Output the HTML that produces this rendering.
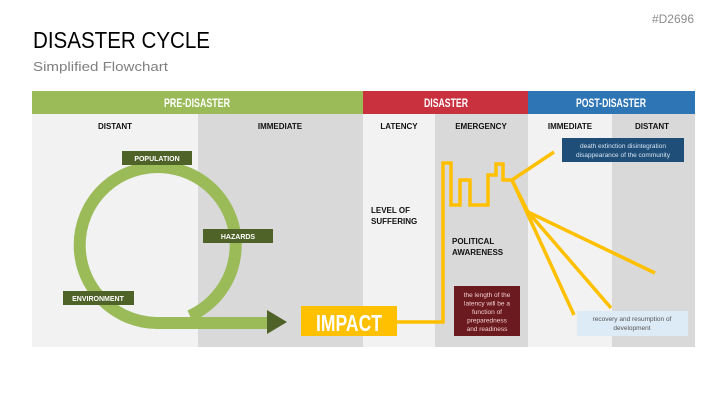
<!DOCTYPE html>
<html><head><meta charset="utf-8"><style>
html,body{margin:0;padding:0;background:#fff;}
svg{display:block;font-family:"Liberation Sans",sans-serif;}
</style></head><body>
<svg width="727" height="409" viewBox="0 0 727 409" xmlns="http://www.w3.org/2000/svg">
<rect width="727" height="409" fill="#fff"/>
<text x="694" y="23" font-size="12" fill="#8c8c8c" text-anchor="end">#D2696</text>
<text x="33" y="48" font-size="23" fill="#000" textLength="177" lengthAdjust="spacingAndGlyphs">DISASTER CYCLE</text>
<text x="33" y="71" font-size="13" fill="#7f7f7f" textLength="135" lengthAdjust="spacingAndGlyphs">Simplified Flowchart</text>
<!-- header bars -->
<rect x="32" y="91" width="331" height="23" fill="#9bbb59"/>
<rect x="363" y="91" width="165" height="23" fill="#c9313f"/>
<rect x="528" y="91" width="167" height="23" fill="#2e75b6"/>
<g fill="#fff" font-size="12" font-weight="bold" text-anchor="middle">
<text x="197" y="107" textLength="66" lengthAdjust="spacingAndGlyphs">PRE-DISASTER</text>
<text x="446" y="107" textLength="44" lengthAdjust="spacingAndGlyphs">DISASTER</text>
<text x="611" y="107" textLength="70" lengthAdjust="spacingAndGlyphs">POST-DISASTER</text>
</g>
<!-- columns -->
<rect x="32" y="114" width="166" height="233" fill="#f2f2f2"/>
<rect x="198" y="114" width="165" height="233" fill="#d9d9d9"/>
<rect x="363" y="114" width="72" height="233" fill="#f2f2f2"/>
<rect x="435" y="114" width="93" height="233" fill="#d9d9d9"/>
<rect x="528" y="114" width="84" height="233" fill="#f2f2f2"/>
<rect x="612" y="114" width="83" height="233" fill="#d9d9d9"/>
<g font-size="8" font-weight="bold" fill="#111" text-anchor="middle">
<text x="115" y="129">DISTANT</text>
<text x="280" y="129">IMMEDIATE</text>
<text x="399" y="129">LATENCY</text>
<text x="481" y="129">EMERGENCY</text>
<text x="570" y="129">IMMEDIATE</text>
<text x="652" y="129">DISTANT</text>
</g>
<!-- circle arrow -->
<path d="M190,316 A78,78 0 1 0 157,323 L269,323" fill="none" stroke="#9bbb59" stroke-width="12"/>
<polygon points="267,310 287,322 267,334" fill="#4f6228"/>
<g font-size="7" font-weight="bold" fill="#fff" text-anchor="middle">
<rect x="122" y="151" width="70" height="14" fill="#4f6228"/><text x="157" y="161">POPULATION</text>
<rect x="203" y="229" width="70" height="14" fill="#4f6228"/><text x="238" y="239">HAZARDS</text>
<rect x="63" y="291" width="71" height="14" fill="#4f6228"/><text x="98" y="301">ENVIRONMENT</text>
</g>
<!-- impact -->
<rect x="301" y="306" width="96" height="30" fill="#ffc000"/>
<text x="349" y="331" font-size="23" font-weight="bold" fill="#fff" text-anchor="middle" textLength="66" lengthAdjust="spacingAndGlyphs">IMPACT</text>
<g fill="none" stroke="#ffc000" stroke-width="3.5" stroke-linejoin="miter">
<path d="M397,322 H443 V163 H451 V205 H460 V180 H470 V205 H488 V175 H496 V164 H503 V180 H512"/>
<path d="M512,180 L554,152"/>
<path d="M512,180 L574,315"/>
<path d="M512,180 L528,212"/>
<path d="M528,212 L655,273"/>
<path d="M528,212 L611,308"/>
</g>
<g font-size="8" font-weight="bold" fill="#111">
<text x="371" y="213">LEVEL OF</text>
<text x="371" y="224">SUFFERING</text>
<text x="452" y="244">POLITICAL</text>
<text x="452" y="255">AWARENESS</text>
</g>
<rect x="454" y="286" width="66" height="50" fill="#6b1a1f"/>
<g font-size="6.5" fill="#f2d0d0" text-anchor="middle">
<text x="487" y="297">the length of the</text>
<text x="487" y="305.5">latency will be a</text>
<text x="487" y="314">function of</text>
<text x="487" y="322.5">preparedness</text>
<text x="487" y="331">and readiness</text>
</g>
<rect x="562" y="138" width="122" height="24" fill="#1f4e79"/>
<g font-size="6.5" fill="#d6e4f0" text-anchor="middle">
<text x="623" y="148">death extinction disintegration</text>
<text x="623" y="157">disappearance of the community</text>
</g>
<rect x="577" y="311" width="111" height="25" fill="#ddebf7"/>
<g font-size="6.5" fill="#555" text-anchor="middle">
<text x="632" y="321">recovery and resumption of</text>
<text x="632" y="330">development</text>
</g>
</svg>
</body></html>
